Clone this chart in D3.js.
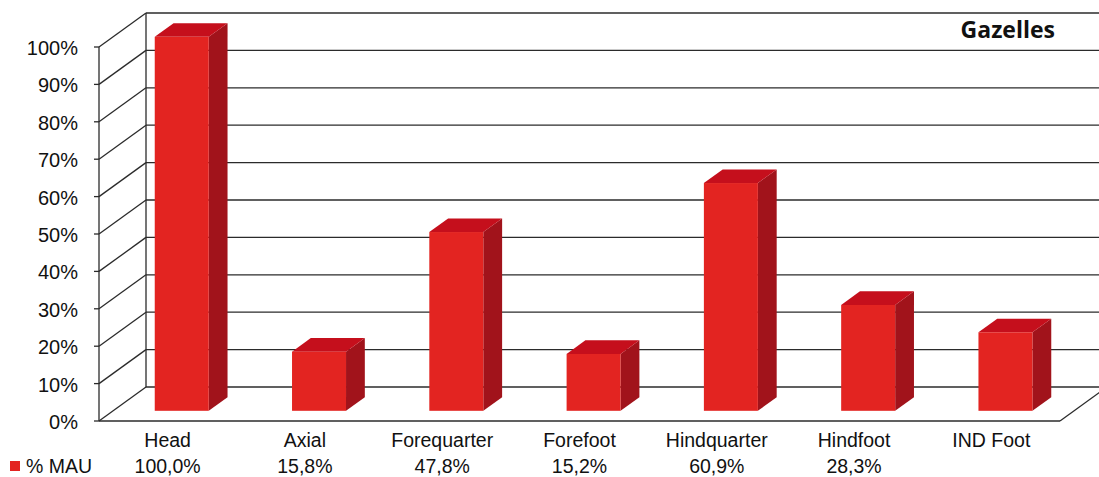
<!DOCTYPE html>
<html>
<head>
<meta charset="utf-8">
<script src="https://cdn.jsdelivr.net/npm/d3@7"></script>
<style>
  body { margin: 0; background: #fff; }
  svg { display: block; }
  text { font-family: "Liberation Sans", Arial, sans-serif; fill: #111; }
</style>
</head>
<body>
<svg id="chart" width="1099" height="477"></svg>
<script>
const categories = ["Head", "Axial", "Forequarter", "Forefoot", "Hindquarter", "Hindfoot", "IND Foot"];
const values = [100.0, 15.8, 47.8, 15.2, 60.9, 28.3, 21.0];
const valueLabels = ["100,0%", "15,8%", "47,8%", "15,2%", "60,9%", "28,3%", ""];
const yTicks = [0, 10, 20, 30, 40, 50, 60, 70, 80, 90, 100];
const seriesName = "% MAU";
const title = "Gazelles";

const svg = d3.select("#chart");

// front plane geometry
const x0 = 99, x1 = 1060;
const y = d3.scaleLinear().domain([0, 100]).range([421, 47]);
const x = d3.scaleBand().domain(categories).range([x0, x1]).paddingInner(0).paddingOuter(0);
const depth = { dx: 47, dy: -34 };
const barD0 = 0.3, barD1 = 0.7;
const barW = 54;

const colFront = "#e32421", colTop = "#c50f1c", colSide = "#a1131b";
const gridCol = "#2b2b2b";

const g = svg.append("g");

// back wall gridlines
g.selectAll("line.back").data(yTicks).join("line")
  .attr("x1", x0 + depth.dx).attr("x2", x1 + depth.dx + 10)
  .attr("y1", d => y(d) + depth.dy).attr("y2", d => y(d) + depth.dy)
  .attr("stroke", gridCol).attr("stroke-width", 1.3);

// left wall diagonals
g.selectAll("line.side").data(yTicks).join("line")
  .attr("x1", x0).attr("y1", d => y(d))
  .attr("x2", x0 + depth.dx).attr("y2", d => y(d) + depth.dy)
  .attr("stroke", gridCol).attr("stroke-width", 1.3);

// left wall verticals
g.append("line").attr("x1", x0).attr("x2", x0).attr("y1", y(0)).attr("y2", y(100))
  .attr("stroke", gridCol).attr("stroke-width", 1.3);
g.append("line").attr("x1", x0 + depth.dx).attr("x2", x0 + depth.dx)
  .attr("y1", y(0) + depth.dy).attr("y2", y(100) + depth.dy)
  .attr("stroke", gridCol).attr("stroke-width", 1.3);

// floor front edge and right edge
g.append("line").attr("x1", x0).attr("x2", x1).attr("y1", y(0)).attr("y2", y(0))
  .attr("stroke", gridCol).attr("stroke-width", 1.3);
g.append("line").attr("x1", x1).attr("y1", y(0)).attr("x2", x1 + depth.dx).attr("y2", y(0) + depth.dy)
  .attr("stroke", gridCol).attr("stroke-width", 1.3);

// tick marks
g.selectAll("line.tick").data(yTicks).join("line")
  .attr("x1", x0 - 5).attr("x2", x0)
  .attr("y1", d => y(d)).attr("y2", d => y(d))
  .attr("stroke", gridCol).attr("stroke-width", 1.3);

// tick labels
g.selectAll("text.ytick").data(yTicks).join("text")
  .attr("x", 78).attr("y", d => y(d) + 8)
  .attr("text-anchor", "end").attr("font-size", 20)
  .text(d => d + "%");

// bars
const bars = g.selectAll("g.bar").data(categories.map((c, i) => ({ c, v: values[i] }))).join("g");
bars.each(function(d) {
  const cx = x(d.c) + x.bandwidth() / 2;
  const fx = cx - barW / 2 + depth.dx * barD0;
  const fy0 = y(0) + depth.dy * barD0;
  const fyt = y(d.v) + depth.dy * barD0;
  const ddx = depth.dx * (barD1 - barD0), ddy = depth.dy * (barD1 - barD0);
  const s = d3.select(this);
  s.append("path").attr("fill", colSide)
    .attr("d", `M${fx + barW},${fyt} L${fx + barW + ddx},${fyt + ddy} L${fx + barW + ddx},${fy0 + ddy} L${fx + barW},${fy0} Z`);
  s.append("path").attr("fill", colTop)
    .attr("d", `M${fx},${fyt} L${fx + ddx},${fyt + ddy} L${fx + barW + ddx},${fyt + ddy} L${fx + barW},${fyt} Z`);
  s.append("rect").attr("fill", colFront)
    .attr("x", fx).attr("y", fyt).attr("width", barW).attr("height", fy0 - fyt);
});

// category labels
g.selectAll("text.cat").data(categories).join("text")
  .attr("x", d => x(d) + x.bandwidth() / 2).attr("y", 447)
  .attr("text-anchor", "middle").attr("font-size", 19.5)
  .text(d => d);

// value labels
g.selectAll("text.val").data(categories.map((c, i) => ({ c, t: valueLabels[i] }))).join("text")
  .attr("x", d => x(d.c) + x.bandwidth() / 2).attr("y", 473)
  .attr("text-anchor", "middle").attr("font-size", 19.5)
  .text(d => d.t);

// legend
g.append("rect").attr("x", 10).attr("y", 461).attr("width", 10).attr("height", 10).attr("fill", colFront);
g.append("text").attr("x", 26).attr("y", 473).attr("font-size", 19.5).text(seriesName);

// title
g.append("text").attr("x", 1055).attr("y", 38).attr("text-anchor", "end")
  .attr("font-size", 23).attr("font-weight", "bold")
  .style("font-family", "'Open Sans', sans-serif")
  .text(title);
</script>
</body>
</html>
